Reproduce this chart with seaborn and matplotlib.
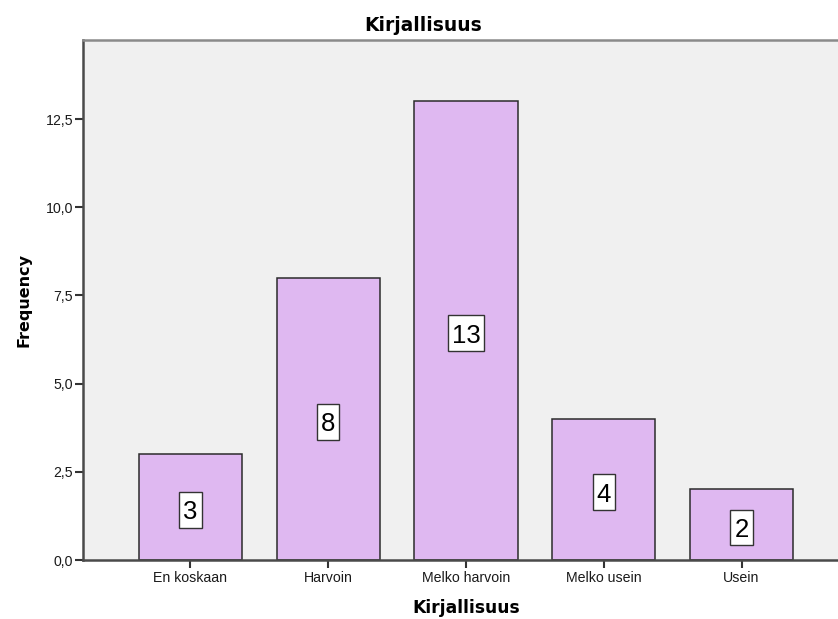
import matplotlib
matplotlib.use("Agg")
import matplotlib.pyplot as plt
from matplotlib.path import Path
import seaborn as sns
import pandas as pd

categories = ["En koskaan", "Harvoin", "Melko harvoin", "Melko usein", "Usein"]
counts = [3, 8, 13, 4, 2]
y_ticks = [0.0, 2.5, 5.0, 7.5, 10.0, 12.5]
y_tick_labels = ["0,0", "2,5", "5,0", "7,5", "10,0", "12,5"]

df = pd.DataFrame({"Kirjallisuus": categories, "Frequency": counts})

sns.set_style("white")
plt.rcParams["font.family"] = ["Liberation Sans", "DejaVu Sans"]


def label_box(x0, y0, width, height, mutation_size):
    """Rectangle around the value text, with extra room above the digits."""
    side = 0.155 * mutation_size
    top = 0.33 * mutation_size
    bottom = 0.13 * mutation_size
    xa, xb = x0 - side, x0 + width + side
    ya, yb = y0 - bottom, y0 + height + top
    return Path([(xa, ya), (xb, ya), (xb, yb), (xa, yb), (xa, ya)], closed=True)


fig = plt.figure(figsize=(8.38, 6.19), dpi=100)
ax = fig.add_axes([0.0990, 0.0953, 0.9010, 0.8401])
ax.set_facecolor("#F0F0F0")

sns.barplot(data=df, x="Kirjallisuus", y="Frequency", order=categories,
            color="#DFB8F1", saturation=1, width=0.75,
            edgecolor="#2b2b2b", linewidth=1.1, ax=ax)

# value labels in white boxes at mid-height of each bar
for i, v in enumerate(counts):
    ax.annotate(str(v), xy=(i, v / 2), xytext=(0, -3.8),
                textcoords="offset points", ha="center", va="center",
                fontsize=18.5, color="black",
                bbox=dict(boxstyle=label_box, facecolor="white",
                          edgecolor="#333333", linewidth=1.0))

ax.set_xlim(-0.78, 4.70)
ax.set_ylim(0, 14.74)
ax.set_yticks(y_ticks)
ax.set_yticklabels(y_tick_labels)

for side in ["left", "bottom", "top"]:
    ax.spines[side].set_visible(True)
    ax.spines[side].set_color("#4a4a4a")
    ax.spines[side].set_linewidth(1.8)
ax.spines["top"].set_color("#8a8a8a")
ax.spines["right"].set_visible(False)

ax.tick_params(axis="both", which="both", direction="out", length=6,
               width=1.5, color="#333333", labelsize=10.2,
               left=True, bottom=True)
ax.tick_params(axis="y", pad=1)
ax.tick_params(axis="x", pad=2)
for lbl in ax.get_xticklabels() + ax.get_yticklabels():
    lbl.set_color("#1a1a1a")

bold = dict(fontweight="bold", family="DejaVu Sans", color="black")
ax.set_xlabel("Kirjallisuus", fontsize=12.3, va="baseline", **bold)
ax.xaxis.set_label_coords(0.5078, -0.1013)
ax.set_ylabel("Frequency", fontsize=11.5, **bold)
ax.yaxis.set_label_coords(-0.0675, 0.5)
ax.set_title("Kirjallisuus", fontsize=13.4, pad=6.7, x=0.451, **bold)

fig.savefig("out.png", dpi=100)
